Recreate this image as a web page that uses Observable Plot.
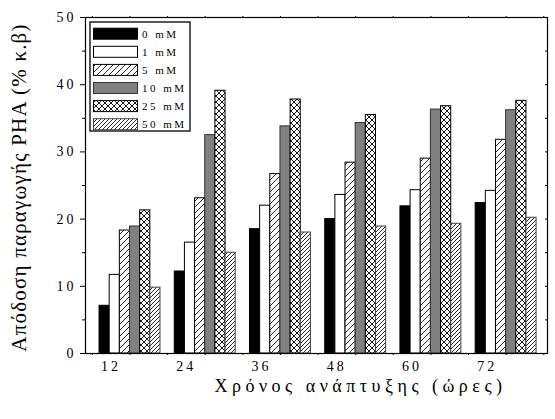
<!DOCTYPE html>
<html>
<head>
<meta charset="utf-8">
<script src="https://cdn.jsdelivr.net/npm/d3@7"></script>
<script src="https://cdn.jsdelivr.net/npm/@observablehq/plot@0.6"></script>
<style>
  body { margin: 0; background: #fff; }
  #chart svg { font-family: "Liberation Serif", "DejaVu Serif", serif; }
  #chart svg [aria-label="y-axis tick label"] text,
  #chart svg [aria-label="x-axis tick label"] text { letter-spacing: 3px; }
  #chart svg .xtitle text { letter-spacing: 4.5px; }
  #chart svg .ytitle text { letter-spacing: 1.2px; }
  #chart svg .legtext { letter-spacing: 2.5px; }
</style>
</head>
<body>
<div id="chart"></div>
<script>
// ---- data ----
const times = [12, 24, 36, 48, 60, 72];
const seriesLabels = ["0 mM", "1 mM", "5 mM", "10 mM", "25 mM", "50 mM"];
const v0  = [7.1, 12.2, 18.5, 20.0, 21.9, 22.4];
const v1  = [11.7, 16.5, 22.0, 23.6, 24.3, 24.2];
const v5  = [18.3, 23.1, 26.7, 28.4, 29.0, 31.8];
const v10 = [18.9, 32.5, 33.8, 34.3, 36.3, 36.2];
const v25 = [21.3, 39.1, 37.8, 35.5, 36.8, 37.6];
const v50 = [9.8, 15.0, 18.0, 18.9, 19.3, 20.2];
const yTicks = [0, 10, 20, 30, 40, 50];
const xTitle = "Χρόνος ανάπτυξης (ώρες)";
const yTitle = "Απόδοση παραγωγής PHA (% κ.β)";

const seriesValues = [v0, v1, v5, v10, v25, v50];
const fills = ["black", "white", "url(#p5)", "#808080", "url(#p25)", "url(#p50)"];
const strokes = ["black", "black", "black", "#333", "black", "#444"];
const BW = 1.62; // bar width in x units

const rows = seriesValues.flatMap((vals, k) =>
  vals.map((v, i) => ({ time: times[i], k, value: v })));

const marks = [];
seriesValues.forEach((_, k) => {
  marks.push(Plot.rectY(rows.filter(r => r.k === k), {
    x1: d => d.time + (d.k - 3) * BW,
    x2: d => d.time + (d.k - 2) * BW,
    y: "value",
    fill: fills[k],
    stroke: strokes[k],
    strokeWidth: 1
  }));
});

const minorX = d3.range(6, 79, 6);
const chart = Plot.plot({
  width: 555,
  height: 419,
  marginLeft: 85,
  marginRight: 8,
  marginTop: 17,
  marginBottom: 66,
  style: { fontFamily: "Liberation Serif", background: "white", color: "black" },
  x: { domain: [4.9, 78.6] },
  y: { domain: [0, 50] },
  marks: [
    ...marks,
    Plot.axisY({ ticks: yTicks, tickSize: 5, tickPadding: 4, fontSize: 14, label: null }),
    Plot.axisY({ ticks: [5, 15, 25, 35, 45], tickSize: 3, tickFormat: () => "", label: null }),
    Plot.axisY({ anchor: "right", ticks: d3.range(0, 51, 5), tickSize: 3, dx: -3, tickFormat: () => "", label: null }),
    Plot.axisX({ ticks: times, tickSize: 0, tickPadding: 8, dx: -19, fontSize: 14, label: null }),
    Plot.axisX({ ticks: minorX, tickSize: 2, tickFormat: () => "", label: null }),
    Plot.axisX({ anchor: "top", ticks: minorX, tickSize: 2, tickFormat: () => "", label: null }),
    Plot.frame({ stroke: "black", strokeWidth: 1.2 }),
    Plot.text([xTitle], { frameAnchor: "bottom", dy: 38, dx: 44, fontSize: 18, className: "xtitle" }),
    Plot.text([yTitle], { frameAnchor: "left", textAnchor: "middle", lineAnchor: "middle", rotate: -90, dx: -66, dy: 2, fontSize: 21, className: "ytitle" })
  ]
});

const svg = d3.select(chart);
const defs = svg.insert("defs", ":first-child");
function hatch(id, size, sw) {
  const p = defs.append("pattern").attr("id", id).attr("patternUnits", "userSpaceOnUse")
    .attr("width", size).attr("height", size);
  p.append("rect").attr("width", size).attr("height", size).attr("fill", "white");
  p.append("path").attr("d", `M0,${size} L${size},0 M${-size/2},${size/2} L${size/2},${-size/2} M${size/2},${size*1.5} L${size*1.5},${size/2}`)
    .attr("stroke", "black").attr("stroke-width", sw);
}
hatch("p5", 6, 0.85);
hatch("p50", 4, 0.85);
{
  const s = 6;
  const p = defs.append("pattern").attr("id", "p25").attr("patternUnits", "userSpaceOnUse")
    .attr("width", s).attr("height", s);
  p.append("rect").attr("width", s).attr("height", s).attr("fill", "white");
  p.append("path").attr("d", `M0,0 L${s},${s} M0,${s} L${s},0`)
    .attr("stroke", "black").attr("stroke-width", 0.9);
}

// legend
const lg = svg.append("g").attr("transform", "translate(90,22)");
lg.append("rect").attr("width", 100).attr("height", 109).attr("fill", "white")
  .attr("stroke", "black").attr("stroke-width", 1.3);
seriesLabels.forEach((lab, k) => {
  const cy = 11.7 + k * 18.1;
  lg.append("rect").attr("x", 3.5).attr("y", cy - 5.5).attr("width", 44).attr("height", 11)
    .attr("fill", fills[k]).attr("stroke", strokes[k]).attr("stroke-width", 1);
  lg.append("text").attr("class", "legtext").attr("x", 52).attr("y", cy).attr("dy", "0.35em")
    .attr("text-anchor", "start").attr("font-size", 11).attr("fill", "black").text(lab);
});

document.getElementById("chart").appendChild(chart);
</script>
</body>
</html>
